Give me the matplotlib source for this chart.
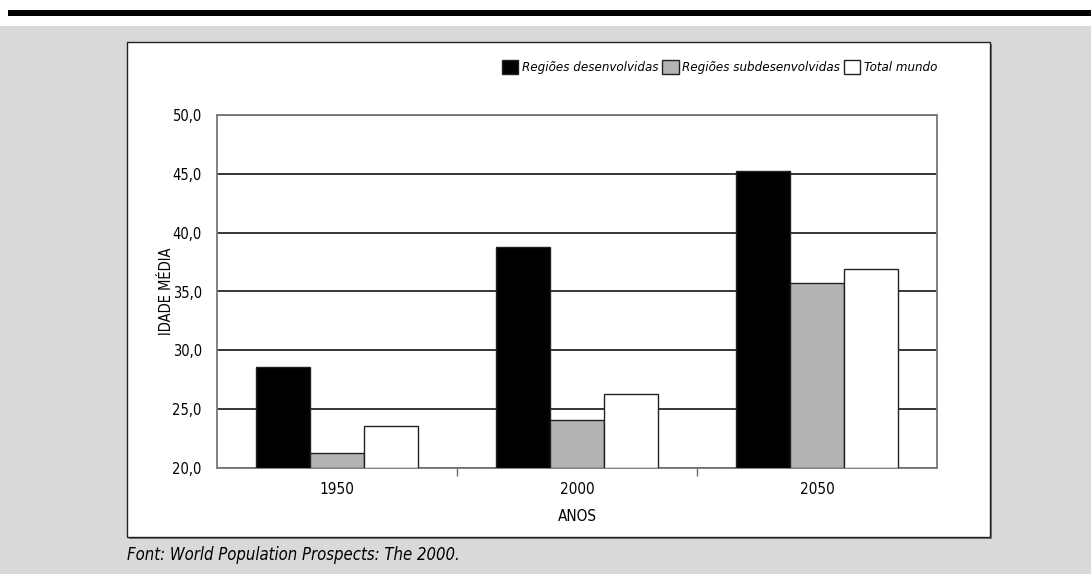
import matplotlib
matplotlib.use("Agg")
import matplotlib.pyplot as plt
import numpy as np
from matplotlib.patches import Rectangle

# Idade média por região
anos = ["1950", "2000", "2050"]
desenvolvidas = [28.6, 38.8, 45.2]
subdesenvolvidas = [21.3, 24.1, 35.7]
total_mundo = [23.6, 26.3, 36.9]
series_nomes = ["Regiões desenvolvidas", "Regiões subdesenvolvidas", "Total mundo"]
y_ticks = [20, 25, 30, 35, 40, 45, 50]

FONTE = ["DejaVu Sans"]
plt.rcParams["font.family"] = FONTE
plt.rcParams["font.stretch"] = "condensed"

W, H = 1091, 574
fig = plt.figure(figsize=(W / 100, H / 100), dpi=100)
fig.patch.set_facecolor("white")

# fundo cinza, faixa preta no topo e caixa branca do gráfico
fig.patches.append(Rectangle((0, 0), 1, 1 - 26 / H, transform=fig.transFigure,
                             facecolor="#d9d9d9", edgecolor="none", zorder=0))
fig.patches.append(Rectangle((8 / W, 1 - 16 / H), 1, 6 / H, transform=fig.transFigure,
                             facecolor="black", edgecolor="none", zorder=1))
fig.patches.append(Rectangle((129 / W, 1 - 539 / H), 863 / W, 495 / H, transform=fig.transFigure,
                             facecolor="#7a7a7a", edgecolor="none", zorder=1))
fig.patches.append(Rectangle((127 / W, 1 - 537 / H), 863 / W, 495 / H, transform=fig.transFigure,
                             facecolor="white", edgecolor="#222222", linewidth=1, zorder=2))

ax = fig.add_axes([217 / W, 1 - 468 / H, 720 / W, 353 / H])
ax.set_zorder(3)
ax.set_facecolor("white")

x = np.arange(len(anos))
w = 0.225
cores = ["black", "#b3b3b3", "white"]
for i, (vals, cor, nome) in enumerate(zip([desenvolvidas, subdesenvolvidas, total_mundo], cores, series_nomes)):
    ax.bar(x + (i - 1) * w, [v - 20 for v in vals], bottom=20, width=w, color=cor,
           edgecolor="#222222", linewidth=1, label=nome, zorder=3)

ax.set_xlim(-0.5, 2.5)
ax.set_ylim(20, 50)
ax.set_yticks(y_ticks)
ax.set_yticklabels([f"{v:.1f}".replace(".", ",") for v in y_ticks], fontsize=10.5)
ax.yaxis.grid(True, color="black", linewidth=1.1, zorder=1)
ax.set_axisbelow(True)
ax.tick_params(axis="y", length=0, pad=11)

# rótulos no centro de cada grupo, marcas de divisão entre grupos
ax.set_xticks([0.5, 1.5])
ax.set_xticklabels([])
ax.set_xticks(x, minor=True)
ax.set_xticklabels(anos, minor=True, fontsize=11)
ax.tick_params(axis="x", which="major", length=6, color="#666666", width=1)
ax.tick_params(axis="x", which="minor", length=0, pad=10)

for s in ax.spines.values():
    s.set_color("#777777")
    s.set_linewidth(1.3)

ax.set_ylabel("IDADE MÉDIA", fontsize=10.5)
ax.yaxis.set_label_coords(-0.06, 0.5)
ax.set_xlabel("ANOS", fontsize=11)
ax.xaxis.set_label_coords(0.5, -0.115)

leg = ax.legend(loc="lower right", bbox_to_anchor=(1.0, 1.115), ncol=3, frameon=False,
                prop={"family": FONTE, "style": "italic", "size": 9.5, "stretch": "condensed"},
                handlelength=1.25, handleheight=1.2, handletextpad=0.25, columnspacing=0.3,
                borderpad=0, borderaxespad=0)

fig.text(127 / W, 1 - 555 / H, "Font: World Population Prospects: The 2000.",
         fontsize=12, style="italic", va="center", ha="left", zorder=5)

fig.savefig("out.png", dpi=100)
